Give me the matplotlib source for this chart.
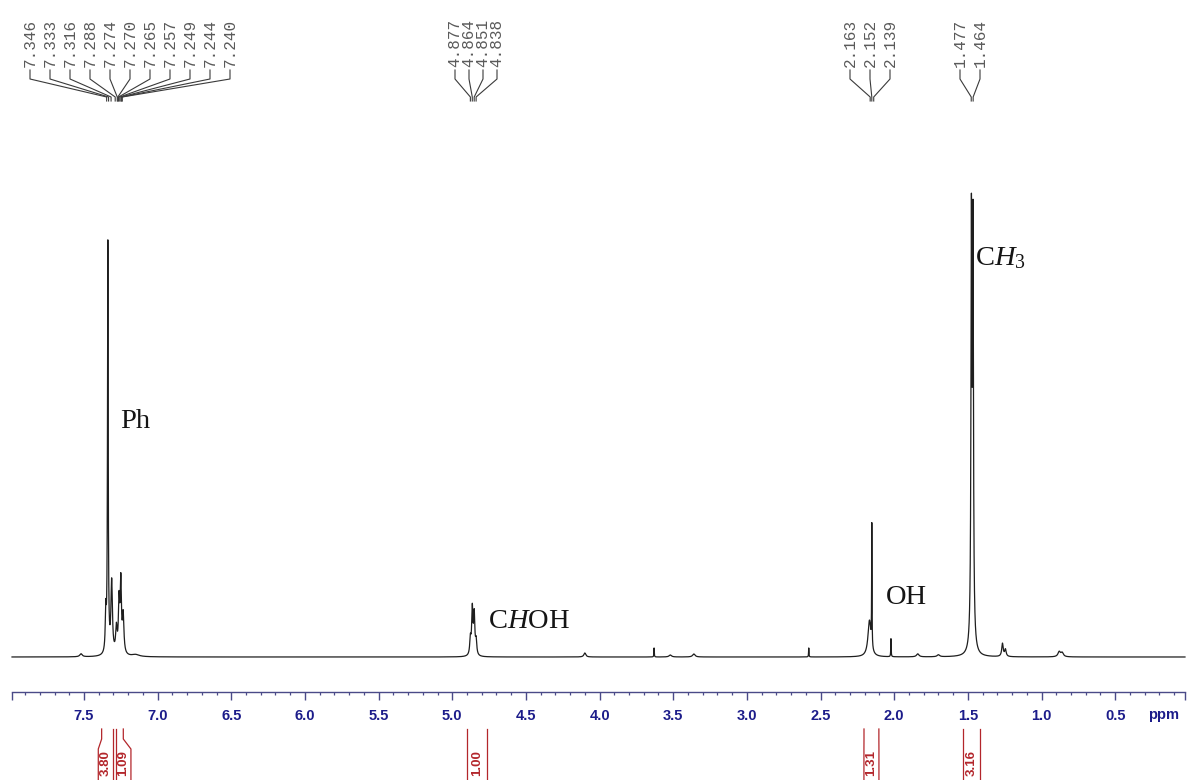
import numpy as np
import matplotlib
matplotlib.use("Agg")
import matplotlib.pyplot as plt
from matplotlib.ticker import FixedLocator

plt.rcParams['mathtext.fontset'] = 'custom'
plt.rcParams['mathtext.rm'] = 'Liberation Serif'
plt.rcParams['mathtext.it'] = 'Liberation Serif:italic'

# ---------------- data ----------------
# spectrum lines: position (ppm), height (arb. units), half width (ppm)
peak_ppm = [7.52, 7.352, 7.338, 7.312, 7.280, 7.262, 7.250, 7.234, 7.15,
            4.877, 4.864, 4.851, 4.838, 4.10, 3.63, 3.52, 3.36, 2.58,
            2.168, 2.152, 2.022, 1.84, 1.70,
            1.470, 1.476, 1.465, 1.265, 1.245, 0.88, 0.86]
peak_height = [3, 40, 410, 72, 25, 50, 70, 38, 2,
               16, 46, 40, 14, 4, 9, 2, 3, 9,
               36, 122, 18, 3, 2,
               45, 395, 385, 13, 7, 5, 4]
peak_hwhm = [0.01, 0.004, 0.0028, 0.006, 0.006, 0.005, 0.005, 0.006, 0.03,
             0.005, 0.005, 0.005, 0.005, 0.008, 0.0015, 0.01, 0.01, 0.0015,
             0.012, 0.0014, 0.0015, 0.01, 0.01,
             0.010, 0.0035, 0.0035, 0.006, 0.006, 0.01, 0.01]

# peak-pick labels, grouped
pick_groups = [
    [7.346, 7.333, 7.316, 7.288, 7.274, 7.270, 7.265, 7.257, 7.249, 7.244, 7.240],
    [4.877, 4.864, 4.851, 4.838],
    [2.163, 2.152, 2.139],
    [1.477, 1.464],
]

# integrals
int_left = [7.380, 7.283, 4.900, 2.205, 1.530]
int_right = [7.301, 7.233, 4.765, 2.104, 1.420]
int_values = ["3.80", "1.09", "1.00", "1.31", "3.16"]

# assignments
assign_labels = ["Ph", r"C$\mathit{H}$OH", "OH", r"C$\mathit{H}_3$"]

major_ticks = [7.5, 7.0, 6.5, 6.0, 5.5, 5.0, 4.5, 4.0, 3.5, 3.0, 2.5, 2.0, 1.5, 1.0, 0.5]

# ---------------- layout helpers ----------------
W, H = 1190, 780
X0, X1 = 8.070, -0.008          # ppm at left / right figure edge
BASE_PX = 657                   # baseline pixel row
PPM_PER_PX = (X0 - X1) / W


def px2ppm(px):
    return X0 - px * PPM_PER_PX


def py2y(py):
    return BASE_PX - py


fig = plt.figure(figsize=(W / 100, H / 100), dpi=100)
ax = fig.add_axes([0, 0, 1, 1])
ax.set_xlim(X0, X1)
ax.set_ylim(-(H - BASE_PX), BASE_PX)
ax.axis('off')

# ---------------- spectrum ----------------
x = np.linspace(X0, X1, 40000)
y = np.zeros_like(x)
for p, h, g in zip(peak_ppm, peak_height, peak_hwhm):
    y += h * g * g / ((x - p) ** 2 + g * g)
mask = (x < px2ppm(12)) & (x > px2ppm(1185))
ax.plot(x[mask], y[mask], color='#1e1e1e', lw=0.9)

# ---------------- ppm axis ----------------
AX_PX = 692
ax2 = fig.add_axes([0, (H - AX_PX) / H, 1, 0.0001])
ax2.set_xlim(X0, X1)
ax2.patch.set_visible(False)
for s in ['top', 'left', 'right']:
    ax2.spines[s].set_visible(False)
axis_col = '#4a4a88'
ax2.spines['bottom'].set_color(axis_col)
ax2.spines['bottom'].set_linewidth(1.0)
end_l, end_r = px2ppm(12), px2ppm(1185)
ax2.spines['bottom'].set_bounds(end_l, end_r)
ax2.set_yticks([])
ax2.set_xticks(major_ticks + [end_l, end_r])
ax2.set_xticklabels([f"{t:.1f}" for t in major_ticks] + ["", ""],
                    fontweight='bold', family='Liberation Sans',
                    fontsize=10.5, color='#1c1c8a')
minor = [round(v, 1) for v in np.arange(0.1, 8.0, 0.1)]
ax2.xaxis.set_minor_locator(FixedLocator(minor))
ax2.tick_params(axis='x', which='major', direction='out', length=5.5,
                width=1.0, color=axis_col, pad=6.5)
ax2.tick_params(axis='x', which='minor', direction='out', length=2.5,
                width=0.9, color=axis_col)
ax.text(px2ppm(1164), py2y(719), "ppm", ha='center', va='baseline',
        fontweight='bold', family='Liberation Sans', fontsize=10.5,
        color='#1c1c8a')

# ---------------- peak-pick labels ----------------
group_center_px = [130, 476, 870, 970]
group_spacing_px = [20, 14, 20, 20]
lab_col = '#5a5a5a'
for grp, cpx, sp in zip(pick_groups, group_center_px, group_spacing_px):
    n = len(grp)
    for i, val in enumerate(grp):
        lx = px2ppm(cpx + (i - (n - 1) / 2) * sp)
        ax.text(lx, py2y(67), f"{val:.3f}", rotation=90, ha='center',
                va='bottom', family='Liberation Mono', fontsize=11.5,
                color=lab_col)
        ax.plot([lx, lx, val, val],
                [py2y(70), py2y(79), py2y(97), py2y(101)],
                color='#3a3a3a', lw=0.8)

# ---------------- integrals ----------------
int_col = '#b3262b'
minw = 15 * PPM_PER_PX
top, k1, k2, bot = py2y(729), py2y(739), py2y(749), py2y(790)
n_int = len(int_values)
for i, (l, r, v) in enumerate(zip(int_left, int_right, int_values)):
    lb, rb = l, r
    if l - r < minw:
        extra = minw - (l - r)
        if i + 1 < n_int and abs(int_left[i + 1] - r) < 0.05:
            lb = l + extra
        elif i > 0 and abs(int_right[i - 1] - l) < 0.05:
            rb = r - extra
        else:
            lb += extra / 2
            rb -= extra / 2
    ax.plot([l, l, lb, lb], [top, k1, k2, bot], color=int_col, lw=0.9)
    ax.plot([r, r, rb, rb], [top, k1, k2, bot], color=int_col, lw=0.9)
    ax.text((lb + rb) / 2, py2y(763), v, rotation=90, ha='center',
            va='center', family='Liberation Sans', fontsize=9.5,
            fontweight='bold', color=int_col)

# ---------------- assignments ----------------
assign_px = [(120, 422), (488, 622), (886, 598), (975, 258)]
for lab, (px, py) in zip(assign_labels, assign_px):
    ax.text(px2ppm(px), py2y(py), lab, ha='left', va='center',
            family='Liberation Serif', fontsize=20.5, color='#151515')

fig.savefig("out.png", dpi=100)
